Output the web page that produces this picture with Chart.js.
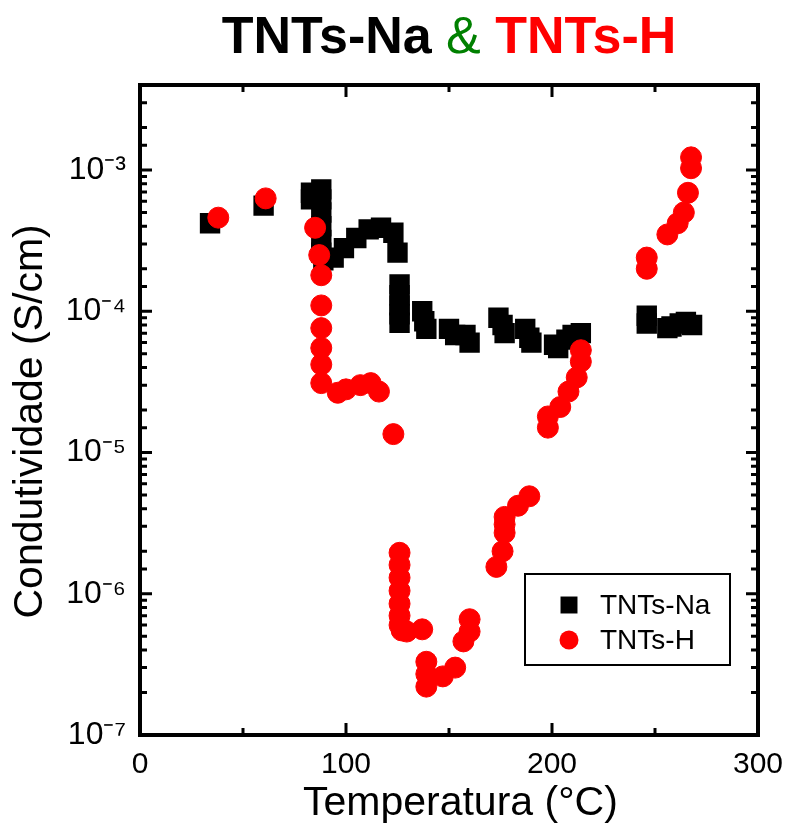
<!DOCTYPE html>
<html>
<head>
<meta charset="utf-8">
<script src="https://cdn.jsdelivr.net/npm/chart.js@4.4.1/dist/chart.umd.min.js"></script>
<style>
  html, body { margin: 0; padding: 0; background: #fff; }
  #wrap { width: 788px; height: 834px; }
</style>
</head>
<body>
<div id="wrap"><canvas id="chart" width="788" height="834"></canvas></div>
<script>
// TNTs-Na conductivity vs temperature
const naTemps = [34, 60, 83, 83, 88, 88, 88, 88, 88, 88, 89, 94, 99, 105, 111, 117, 123, 125,
  126, 126, 126, 126, 126, 137, 138, 139, 150, 153, 158, 160, 174, 176, 177, 187, 189, 190,
  201, 203, 207, 210, 214, 246, 246, 256, 258, 262, 265, 268];
const naCond = [4.2e-4, 5.6e-4, 6.9e-4, 6.2e-4, 7.3e-4, 6.2e-4, 5.0e-4, 4.0e-4, 3.2e-4, 2.6e-4, 2.3e-4,
  2.4e-4, 2.8e-4, 3.3e-4, 3.8e-4, 3.9e-4, 3.6e-4, 2.6e-4,
  1.55e-4, 1.3e-4, 1.1e-4, 9.5e-5, 8.3e-5, 1.0e-4, 8.5e-5, 7.5e-5, 7.5e-5, 6.8e-5, 6.8e-5, 6.0e-5,
  9.0e-5, 8.0e-5, 7.0e-5, 7.5e-5, 6.5e-5, 6.0e-5, 5.8e-5, 5.5e-5, 6.3e-5, 6.8e-5, 7.0e-5,
  9.3e-5, 8.2e-5, 7.6e-5, 7.8e-5, 8.2e-5, 8.4e-5, 8.0e-5];

// TNTs-H conductivity vs temperature
const hTemps = [38, 61, 85, 87, 88, 88, 88, 88, 88, 88, 96, 100, 107, 112, 116, 123,
  126, 126, 126, 126, 126, 126, 126, 127, 129.5, 137, 139, 139, 139, 147, 153, 157, 160, 160,
  173, 176, 177, 177, 177, 183.5, 189, 198, 198, 204, 208, 212, 214, 214,
  246, 246, 256, 261, 264, 266, 267.5, 267.5];
const hCond = [4.6e-4, 6.3e-4, 3.9e-4, 2.5e-4, 1.8e-4, 1.1e-4, 7.6e-5, 5.5e-5, 4.2e-5, 3.1e-5,
  2.65e-5, 2.8e-5, 3.0e-5, 3.1e-5, 2.7e-5, 1.35e-5,
  1.95e-6, 1.6e-6, 1.3e-6, 1.05e-6, 8.5e-7, 7.0e-7, 6.0e-7, 5.5e-7, 5.4e-7, 5.6e-7,
  3.3e-7, 2.7e-7, 2.2e-7, 2.6e-7, 3.0e-7, 4.6e-7, 5.4e-7, 6.6e-7,
  1.55e-6, 2.0e-6, 2.7e-6, 3.1e-6, 3.5e-6, 4.2e-6, 4.9e-6, 1.5e-5, 1.8e-5, 2.1e-5, 2.7e-5, 3.4e-5,
  4.4e-5, 5.3e-5, 2.0e-4, 2.4e-4, 3.5e-4, 4.2e-4, 5.0e-4, 6.9e-4, 1.03e-3, 1.23e-3];

const seriesNames = ['TNTs-Na', 'TNTs-H'];
const xLabeled = [0, 100, 200, 300];
const yDecades = [-7, -6, -5, -4, -3];

const SANS = "Arial, 'Liberation Sans', sans-serif";

const SUP = { '-': '\u207B', '0': '\u2070', '1': '\u00B9', '2': '\u00B2', '3': '\u00B3',
  '4': '\u2074', '5': '\u2075', '6': '\u2076', '7': '\u2077', '8': '\u2078', '9': '\u2079' };
function powLabel(exp) {
  return '10' + String(exp).split('').map(c => SUP[c]).join('');
}

function toPoints(xs, ys) {
  return xs.map((x, i) => ({ x: x, y: ys[i] }));
}

function isDecade(v) {
  const l = Math.log10(v);
  return Math.abs(l - Math.round(l)) < 1e-6;
}

// box, inward ticks on all four sides
const frameTicks = {
  id: 'frameTicks',
  afterDraw(chart) {
    const { ctx, chartArea: a, scales: { x, y } } = chart;
    ctx.save();
    ctx.strokeStyle = '#000';
    ctx.lineWidth = 3;
    ctx.beginPath();
    x.ticks.forEach(t => {
      const px = x.getPixelForValue(t.value);
      const len = xLabeled.includes(t.value) ? 12 : 7;
      ctx.moveTo(px, a.bottom); ctx.lineTo(px, a.bottom - len);
      ctx.moveTo(px, a.top); ctx.lineTo(px, a.top + len);
    });
    y.ticks.forEach(t => {
      const py = y.getPixelForValue(t.value);
      const len = isDecade(t.value) ? 12 : 7;
      ctx.moveTo(a.left, py); ctx.lineTo(a.left + len, py);
      ctx.moveTo(a.right, py); ctx.lineTo(a.right - len, py);
    });
    ctx.stroke();
    ctx.lineWidth = 4;
    ctx.strokeRect(a.left, a.top, a.right - a.left, a.bottom - a.top);
    ctx.restore();
  }
};

// legend box in the lower right of the plot
const boxLegend = {
  id: 'boxLegend',
  afterDraw(chart) {
    const { ctx, chartArea: a } = chart;
    const w = 205, h = 91;
    const left = a.right - 28 - w, top = a.bottom - 70 - h;
    ctx.save();
    ctx.strokeStyle = '#000';
    ctx.lineWidth = 2;
    ctx.strokeRect(left, top, w, h);
    ctx.font = '28px ' + SANS;
    ctx.textBaseline = 'middle';
    chart.data.datasets.forEach((ds, i) => {
      const cy = top + 31 + i * 35;
      ctx.fillStyle = ds.backgroundColor;
      ctx.strokeStyle = ds.borderColor;
      Chart.helpers.drawPoint(ctx, {
        pointStyle: ds.pointStyle, radius: ds.pointStyle === 'rect' ? 12 : 9.5,
        rotation: 0, borderWidth: 0
      }, left + 44, cy);
      ctx.fillStyle = '#000';
      ctx.fillText(ds.label, left + 75, cy + 1);
    });
    ctx.restore();
  }
};

// two-colour heading above the plot
const heading = {
  id: 'heading',
  afterDraw(chart) {
    const { ctx, chartArea: a } = chart;
    const parts = [
      { text: seriesNames[0], color: '#000000', font: 'bold 52px ' + SANS },
      { text: ' & ', color: '#008000', font: '52px ' + SANS },
      { text: seriesNames[1], color: '#ff0000', font: 'bold 52px ' + SANS }
    ];
    ctx.save();
    let total = 0;
    parts.forEach(p => { ctx.font = p.font; p.w = ctx.measureText(p.text).width; total += p.w; });
    let x = (a.left + a.right) / 2 - total / 2;
    ctx.textBaseline = 'alphabetic';
    parts.forEach(p => {
      ctx.font = p.font;
      ctx.fillStyle = p.color;
      ctx.fillText(p.text, x, 53);
      x += p.w;
    });
    ctx.restore();
  }
};

new Chart(document.getElementById('chart'), {
  type: 'scatter',
  data: {
    datasets: [
      {
        label: seriesNames[0],
        data: toPoints(naTemps, naCond),
        pointStyle: 'rect',
        pointRadius: 13,
        pointBorderWidth: 2,
        borderJoinStyle: 'round',
        backgroundColor: '#000000',
        borderColor: '#000000',
        order: 2
      },
      {
        label: seriesNames[1],
        data: toPoints(hTemps, hCond),
        pointStyle: 'circle',
        pointRadius: 10.5,
        pointBorderWidth: 1,
        backgroundColor: '#ff0000',
        borderColor: '#ff0000',
        order: 1
      }
    ]
  },
  options: {
    responsive: false,
    animation: false,
    devicePixelRatio: 1,
    layout: { padding: { top: 85, right: 30, left: 0, bottom: 0 } },
    plugins: {
      legend: { display: false },
      tooltip: { enabled: false }
    },
    scales: {
      x: {
        type: 'linear',
        min: 0,
        max: 300,
        grid: { display: false, drawTicks: false },
        border: { display: false },
        ticks: {
          stepSize: 50,
          autoSkip: false,
          maxRotation: 0,
          padding: 12,
          color: '#000',
          font: { family: SANS, size: 30 },
          callback: v => (xLabeled.includes(v) ? String(v) : '')
        },
        title: {
          display: true,
          text: '  Temperatura (\u00B0C)',
          color: '#000',
          font: { family: SANS, size: 41, lineHeight: 1 },
          padding: { top: 0, bottom: 10 }
        },
        afterFit: s => { s.height = 99; s.paddingLeft = 0; s.paddingRight = 0; }
      },
      y: {
        type: 'logarithmic',
        min: 1e-7,
        max: 4e-3,
        grid: { display: false, drawTicks: false },
        border: { display: false },
        ticks: {
          autoSkip: false,
          padding: 14,
          color: '#000',
          font: { family: SANS, size: 32 },
          callback: v => {
            const e = Math.round(Math.log10(v));
            return isDecade(v) && yDecades.includes(e) ? powLabel(e) : '';
          }
        },
        title: {
          display: true,
          text: 'Condutividade (S/cm)  ',
          color: '#000',
          font: { family: SANS, size: 41, lineHeight: 1 },
          padding: { top: 10, bottom: 0 }
        },
        afterFit: s => { s.width = 140; s.paddingTop = 0; s.paddingBottom = 0; }
      }
    }
  },
  plugins: [frameTicks, boxLegend, heading]
});
</script>
</body>
</html>
